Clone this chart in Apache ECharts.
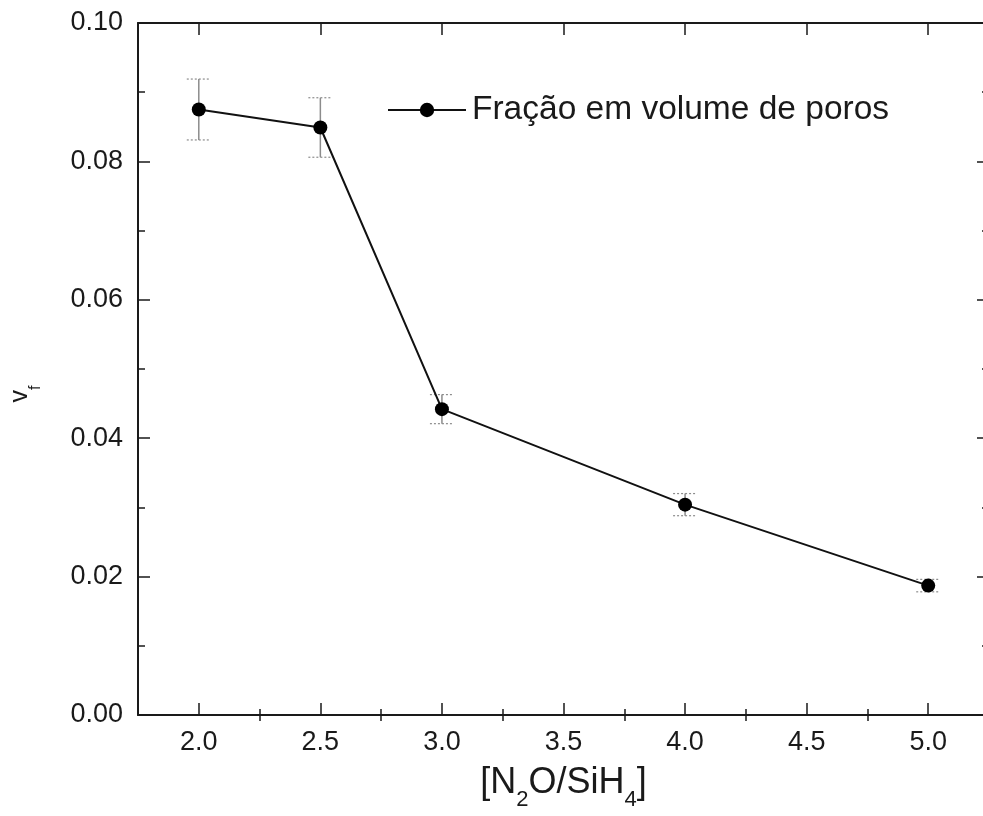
<!DOCTYPE html>
<html>
<head>
<meta charset="utf-8">
<script src="https://cdn.jsdelivr.net/npm/echarts@6/dist/echarts.min.js"></script>
<style>
  html, body { margin: 0; padding: 0; overflow: hidden; background: #fff; }
  #chart { width: 1000px; height: 816px; }
</style>
</head>
<body>
<div id="chart"></div>
<script>
// ---- data ----
var ratio = [2.0, 2.5, 3.0, 4.0, 5.0];
var poreFraction = [0.0875, 0.0849, 0.0442, 0.0304, 0.0187];
var poreError = [0.0044, 0.0043, 0.0021, 0.0016, 0.0009];
var seriesName = 'Fração em volume de poros';
var xMajorTicks = [2.0, 2.5, 3.0, 3.5, 4.0, 4.5, 5.0];
var xMinorTicks = [2.25, 2.75, 3.25, 3.75, 4.25, 4.75];

var FONT = "'Liberation Sans', Arial, Helvetica, sans-serif";
var INK = '#1a1a1a';

var lineData = ratio.map(function (x, i) { return [x, poreFraction[i]]; });
var errData = ratio.map(function (x, i) {
  return [x, poreFraction[i] - poreError[i], poreFraction[i] + poreError[i]];
});

var chart = echarts.init(document.getElementById('chart'), null, { renderer: 'canvas' });

function xAxisBase(pos, extra) {
  var a = {
    type: 'value', position: pos, min: 1.75, max: 5.25,
    splitLine: { show: false },
    axisLine: { show: true, onZero: false, lineStyle: { color: INK, width: 2 } },
    axisLabel: { show: false },
    axisTick: { show: true, inside: true, length: 12, lineStyle: { color: INK, width: 1.5 }, customValues: xMajorTicks }
  };
  for (var k in extra) a[k] = extra[k];
  return a;
}

var option = {
  animation: false,
  backgroundColor: '#fff',
  textStyle: { fontFamily: FONT },
  grid: { left: 137, top: 23, width: 852, height: 696, containLabel: false },
  legend: {
    left: 387, top: 90, padding: 0,
    itemWidth: 78, itemHeight: 18, itemGap: 0,
    data: [seriesName],
    selectedMode: false,
    textStyle: { fontSize: 33.5, color: INK, fontFamily: FONT, lineHeight: 40, padding: [0, 0, 0, 1] }
  },
  xAxis: [
    xAxisBase('bottom', {
      axisLabel: {
        show: true, fontSize: 27, color: INK, fontFamily: FONT, margin: 14,
        customValues: xMajorTicks,
        formatter: function (v) { return v.toFixed(1); }
      },
      name: '{m|[N}{s|2}{m|O/SiH}{s|4}{m|]}',
      nameLocation: 'middle',
      nameGap: 50,
      nameTextStyle: {
        rich: {
          m: { fontSize: 36, fontFamily: FONT, color: INK, lineHeight: 46, verticalAlign: 'top' },
          s: { fontSize: 22, fontFamily: FONT, color: INK, lineHeight: 22, verticalAlign: 'bottom' }
        }
      }
    }),
    xAxisBase('bottom', {
      axisLine: { show: false },
      axisTick: { show: true, inside: true, length: 6, lineStyle: { color: INK, width: 1.5 }, customValues: xMinorTicks }
    }),
    xAxisBase('top', {}),
    xAxisBase('top', {
      axisLine: { show: false },
      axisTick: { show: true, inside: true, length: 6, lineStyle: { color: INK, width: 1.5 }, customValues: xMinorTicks }
    })
  ],
  yAxis: [
    {
      type: 'value', position: 'left', min: 0, max: 0.1, interval: 0.02,
      splitLine: { show: false },
      axisLine: { show: true, onZero: false, lineStyle: { color: INK, width: 2 } },
      axisTick: { show: true, inside: true, length: 12, lineStyle: { color: INK, width: 1.5 } },
      minorTick: { show: true, splitNumber: 2, length: 7, lineStyle: { color: INK, width: 1.5 } },
      axisLabel: {
        fontSize: 27, color: INK, fontFamily: FONT, margin: 15,
        formatter: function (v) { return v.toFixed(2); }
      },
      name: '{m|v}{s|f}',
      nameLocation: 'middle',
      nameGap: 94,
      nameTextStyle: {
        padding: [0, 50, 0, 0],
        rich: {
          m: { fontSize: 25, fontFamily: FONT, color: INK, lineHeight: 36, verticalAlign: 'top' },
          s: { fontSize: 16, fontFamily: FONT, color: INK, lineHeight: 16, verticalAlign: 'bottom' }
        }
      }
    },
    {
      type: 'value', position: 'right', min: 0, max: 0.1, interval: 0.02,
      splitLine: { show: false },
      axisLine: { show: true, onZero: false, lineStyle: { color: INK, width: 2 } },
      axisTick: { show: true, inside: true, length: 12, lineStyle: { color: INK, width: 1.5 } },
      minorTick: { show: true, splitNumber: 2, length: 7, lineStyle: { color: INK, width: 1.5 } },
      axisLabel: { show: false }
    }
  ],
  series: [
    {
      type: 'custom',
      name: 'erro',
      xAxisIndex: 0, yAxisIndex: 0,
      silent: true,
      z: 1,
      data: errData,
      renderItem: function (params, api) {
        var x = api.value(0);
        var lo = api.coord([x, api.value(1)]);
        var hi = api.coord([x, api.value(2)]);
        var half = 12;
        var grey = '#8c8c8c';
        return {
          type: 'group',
          children: [
            { type: 'line', shape: { x1: lo[0], y1: lo[1], x2: hi[0], y2: hi[1] },
              style: { stroke: grey, lineWidth: 1.5 } },
            { type: 'line', shape: { x1: lo[0] - half, y1: lo[1], x2: lo[0] + half, y2: lo[1] },
              style: { stroke: grey, lineWidth: 1.2, lineDash: [2, 2] } },
            { type: 'line', shape: { x1: hi[0] - half, y1: hi[1], x2: hi[0] + half, y2: hi[1] },
              style: { stroke: grey, lineWidth: 1.2, lineDash: [2, 2] } }
          ]
        };
      }
    },
    {
      type: 'line',
      name: seriesName,
      xAxisIndex: 0, yAxisIndex: 0,
      data: lineData,
      z: 3,
      symbol: 'circle',
      symbolSize: 14,
      itemStyle: { color: '#000' },
      lineStyle: { color: '#111', width: 2 },
      emphasis: { disabled: true }
    }
  ]
};

chart.setOption(option);
</script>
</body>
</html>
